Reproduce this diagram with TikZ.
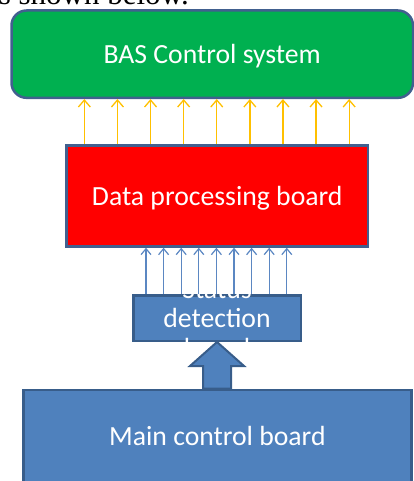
\documentclass[tikz,border=0pt]{standalone}
\usepackage{fontspec}
\setmainfont{Carlito}
\newfontfamily\serifref{Liberation Serif}
\usetikzlibrary{arrows.meta,calc}
\definecolor{bgreen}{HTML}{00B050}
\definecolor{bred}{HTML}{FF0000}
\definecolor{bblue}{HTML}{4F81BD}
\definecolor{bborder}{HTML}{385D8A}
\definecolor{bframe}{HTML}{41608F}
\definecolor{byellow}{HTML}{FFC000}
\definecolor{barrow}{HTML}{5B87C2}
\begin{document}
\begin{tikzpicture}[x=1pt,y=-1pt,
  box/.style={draw, line width=2.5pt, inner sep=0pt, text=white,
    font=\fontsize{27.7}{29}\selectfont, text height=18pt, text depth=0pt},
  lbl/.style={inner sep=0pt, text=white, font=\fontsize{27.7}{29}\selectfont, anchor=base},
  yarr/.style={byellow, line width=1.3pt, -{Straight Barb[length=7pt,width=12pt]}},
  barr/.style={barrow, line width=1.2pt, -{Straight Barb[length=6pt,width=10pt]}},
  blockarr/.style={fill=bblue, draw=bborder, line width=2pt, line join=miter}
]
\useasboundingbox (0,0) rectangle (414,481);

\node[inner sep=0pt, anchor=base east, font=\serifref\fontsize{31}{31}\selectfont] (top) at (189,5) {as shown below.};

\node[box, fill=bgreen, draw=bframe, rounded corners=15pt,
  minimum width=401.5pt, minimum height=87.3pt] (bas) at (212.25,54.15) {BAS Control system};
\node[box, fill=bred, draw=bframe,
  minimum width=301.5pt, minimum height=101pt] (dpb) at (217.25,196) {Data processing board};
\node[box, fill=bblue, draw=bborder,
  minimum width=167.5pt, minimum height=45.5pt] (sdb) at (217,318) {};
\node[box, fill=bblue, draw=bborder,
  minimum width=388.25pt, minimum height=93.25pt] (mcb) at (217.4,436.4) {Main control board};

\node[lbl] (st1) at (217,298.5) {Status};
\node[lbl] (st2) at (217,327.7) {detection};
\node[lbl] (st3) at (217,357) {board};

\foreach \i in {0,...,8} {
  \coordinate (ya\i) at ($(dpb.north)+({-0.5+33.1*(\i-4)},0)$);
  \draw[yarr] (ya\i) -- (ya\i |- bas.south);
  \coordinate (bl\i) at ($(sdb.north)+({-0.6+17.6*(\i-4)},0)$);
  \draw[barr] (bl\i) -- (bl\i |- dpb.south);
}

\coordinate (tip) at (sdb.south);
\coordinate (ba) at (tip |- mcb.north);
\draw[blockarr] ($(ba)+(-14,0)$) -- ($(tip)+(-14,24)$) -- ($(tip)+(-27,24)$) -- (tip)
  -- ($(tip)+(27,24)$) -- ($(tip)+(14,24)$) -- ($(ba)+(14,0)$) -- cycle;
\end{tikzpicture}
\end{document}
